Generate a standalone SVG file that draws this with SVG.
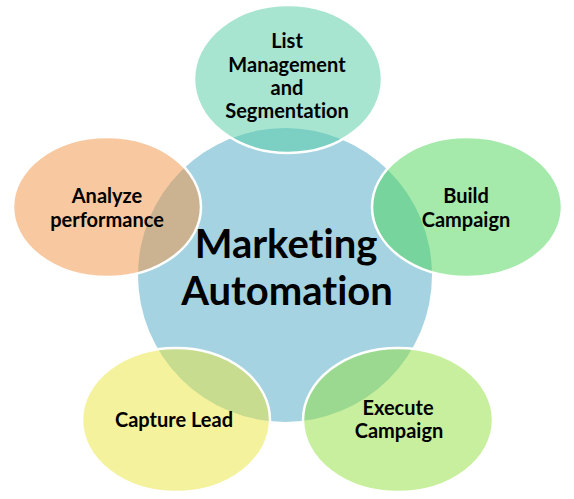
<svg xmlns="http://www.w3.org/2000/svg" width="574" height="499" viewBox="0 0 574 499">
<style>
.bg{fill:#ffffff}
.hub{fill:#a5d3e2}
.pet{stroke:#ffffff;stroke-width:2.5}
.t{font-family:Lato,"Open Sans","Liberation Sans",sans-serif;font-weight:bold;fill:#000;text-anchor:middle;font-variant-ligatures:none;font-feature-settings:"liga" 0,"clig" 0}
.s{font-size:20px}
.b{font-size:40px}
</style>
<rect class="bg" width="574" height="499"/>
<g id="hub">
<circle class="hub" cx="285" cy="275" r="147"/>
</g>
<g id="list">
<ellipse class="pet" cx="288" cy="79" rx="94" ry="74" fill="#52cca3" fill-opacity="0.5"/>
</g>
<g id="build">
<ellipse class="pet" cx="467" cy="207" rx="95" ry="70" fill="#4cd657" fill-opacity="0.5"/>
</g>
<g id="execute">
<ellipse class="pet" cx="398" cy="420" rx="95" ry="72" fill="#92df3e" fill-opacity="0.5"/>
</g>
<g id="capture">
<ellipse class="pet" cx="176" cy="420" rx="94" ry="72" fill="#e9e63b" fill-opacity="0.5"/>
</g>
<g id="analyze">
<ellipse class="pet" cx="107" cy="207" rx="94" ry="70" fill="#f19341" fill-opacity="0.5"/>
</g>
<g id="labels">
<text class="t b" x="286" y="258">Marketing</text>
<text class="t b" x="287" y="305">Automation</text>
<text class="t s" x="287" y="48">List</text>
<text class="t s" x="287" y="72">Management</text>
<text class="t s" x="287" y="95">and</text>
<text class="t s" x="287" y="118">Segmentation</text>
<text class="t s" x="107" y="203">Analyze</text>
<text class="t s" x="107" y="227">performance</text>
<text class="t s" x="466" y="203">Build</text>
<text class="t s" x="466" y="227">Campaign</text>
<text class="t s" x="174" y="427">Capture Lead</text>
<text class="t s" x="398" y="415">Execute</text>
<text class="t s" x="399" y="438">Campaign</text>
</g>
</svg>
